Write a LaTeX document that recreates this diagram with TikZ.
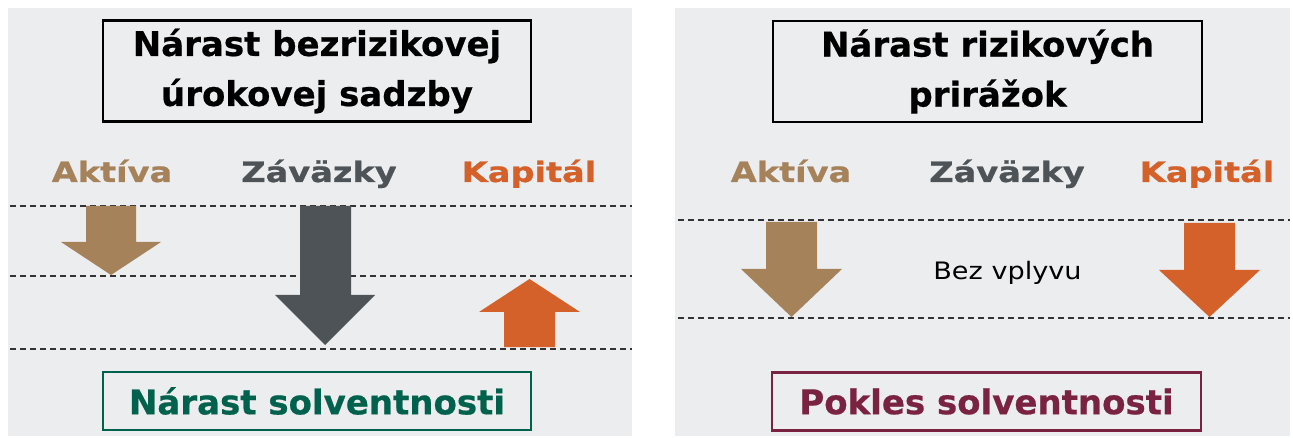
\documentclass[tikz,border=0pt]{standalone}
\usepackage{fontspec}
\setmainfont{DejaVu Sans}[BoldFeatures={FakeBold=0.6}]
\newfontfamily\headfont{DejaVu Sans}[FakeStretch=1.2,BoldFeatures={FakeBold=0.8}]
\newfontfamily\notefont{DejaVu Sans}[FakeStretch=1.13]
\definecolor{panelgray}{HTML}{ECEDEF}
\definecolor{assetbrown}{HTML}{A6825A}
\definecolor{liabgray}{HTML}{4D5357}
\definecolor{caporange}{HTML}{D4602A}
\definecolor{solvgreen}{HTML}{00614C}
\definecolor{solvmaroon}{HTML}{7A2340}
\begin{document}
\begin{tikzpicture}[x=1pt,y=-1pt,
  panel/.style={fill=panelgray,draw=none},
  titlebox/.style={draw=black,line width=2.5pt,minimum height=101pt,
    align=center,font=\bfseries\fontsize{34}{50}\selectfont,inner sep=0pt},
  resultbox/.style={line width=2.4pt,minimum height=58pt,inner sep=0pt,
    font=\bfseries\fontsize{34}{40}\selectfont},
  colhead/.style={font=\headfont\bfseries\fontsize{28}{32}\selectfont,
    inner sep=0pt,anchor=base},
  level/.style={dash pattern=on 6pt off 4pt,line width=1.2pt,black!80},
  plain/.style={font=\notefont\fontsize{24}{28}\selectfont,inner sep=0pt,anchor=base}]
\useasboundingbox (0,0) rectangle (1293,438);

% background panels
\fill[panel] (8,8) rectangle (632,436);
\fill[panel] (675,8) rectangle (1290,436);

% ---------- left panel: risk-free rate rise ----------
\node[titlebox,minimum width=428pt] (tl) at (317,71) {Nárast bezrizikovej\\úrokovej sadzby};
\node[colhead,text=assetbrown] (al) at (112,182) {Aktíva};
\node[colhead,text=liabgray] (zl) at (319,182) {Záväzky};
\node[colhead,text=caporange] (kl) at (529,182) {Kapitál};

\draw[level] (10,206) -- (632,206);
\draw[level] (10,276) -- (632,276);
\draw[level] (10,349) -- (632,349);

% assets fall
\fill[assetbrown] (86,206) -- (136,206) -- (136,242) -- (161,242) -- (111,275)
  -- (61,242) -- (86,242) -- cycle;
% liabilities fall more
\fill[liabgray] (300,206) -- (351,206) -- (351,295) -- (375,295) -- (325,345)
  -- (275,295) -- (300,295) -- cycle;
% capital rises
\fill[caporange] (504,347) -- (555,347) -- (555,312) -- (580,312) -- (529.5,279)
  -- (479,312) -- (504,312) -- cycle;

\node[resultbox,draw=solvgreen,text=solvgreen,minimum width=428pt] (rl) at (317,401) {Nárast solventnosti};

% ---------- right panel: risk spread rise ----------
\node[titlebox,minimum width=429pt] (tr) at (987.5,71.5) {Nárast rizikových\\prirážok};
\node[colhead,text=assetbrown] (ar) at (791,182) {Aktíva};
\node[colhead,text=liabgray] (zr) at (1007,182) {Záväzky};
\node[colhead,text=caporange] (kr) at (1207,182) {Kapitál};

\draw[level] (678,220) -- (1290,220);
\draw[level] (678,318) -- (1290,318);

\fill[assetbrown] (766,222) -- (817,222) -- (817,269) -- (842,269) -- (791.5,317)
  -- (741,269) -- (766,269) -- cycle;
\fill[caporange] (1184,223) -- (1235,223) -- (1235,270) -- (1260,270) -- (1209.5,317)
  -- (1159,270) -- (1184,270) -- cycle;

\node[plain] (nv) at (1007.5,280) {Bez vplyvu};

\node[resultbox,draw=solvmaroon,text=solvmaroon,minimum width=429pt] (rr) at (986.5,401.5) {Pokles solventnosti};
\end{tikzpicture}
\end{document}
